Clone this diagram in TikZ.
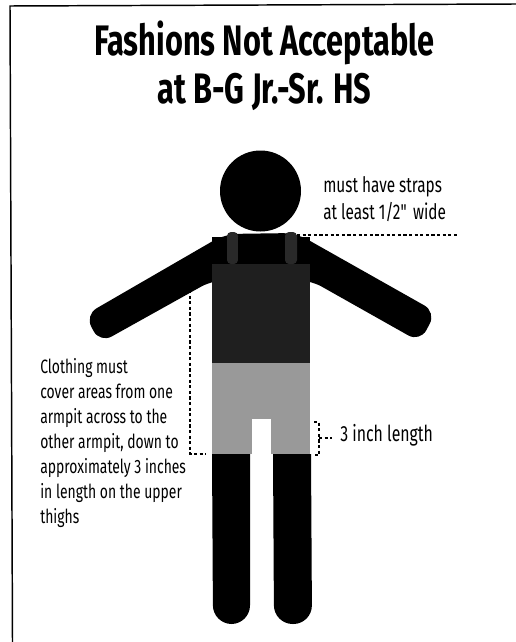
\documentclass[tikz,border=0pt]{standalone}
\usepackage{fontspec}
\setmainfont{Fira Sans}[FakeStretch=0.72]
\tikzset{
  leader/.style={draw=black, line width=1.2pt, dash pattern=on 2.4pt off 1.8pt},
  label/.style={inner sep=0pt, align=left, anchor=north west, font=\fontsize{14.5}{18.75}\selectfont},
  body/.style={fill=black, draw=none}
}
\begin{document}
\begin{tikzpicture}[x=0.75pt, y=-0.75pt]
\useasboundingbox (0,0) rectangle (516,642);
\fill [white] (0,0) rectangle (516,642);
\draw [line width=1.1pt] (12.5,642) -- (10,6) -- (516,4);
\node (title) [inner sep=0pt, align=center, font=\fontsize{32}{36}\selectfont\bfseries] at (264.5,66) {Fashions Not Acceptable\\at B-G Jr.-Sr. HS};
\fill [body] (260.5,191) circle [radius=40.5];
\path [body, rounded corners=10pt] (225,234) -- (85,315) -- (100,343) -- (213,280) -- (310,280) -- (420,342) -- (436,312) -- (296,233) -- cycle;
\fill [body] (212,237) rectangle (310,270);
\fill [black!88] (212,264) rectangle (310,364);
\fill [black!40] (212,363) rectangle (310,454);
\fill [black!84, rounded corners=3pt] (227,232) rectangle (238,264);
\fill [black!84, rounded corners=3pt] (285,232) rectangle (297,264);
\fill [body] (238,237) rectangle (285,264);
\path [body] (212,454) [rounded corners=14pt] -- (213,624) -- (250,624) [sharp corners] -- (250,454) -- cycle;
\path [body] (273,454) [rounded corners=14pt] -- (274,624) -- (312,624) [sharp corners] -- (311,454) -- cycle;
\fill [white] (252,419) rectangle (271,454);
\coordinate (strap) at (297,235);
\coordinate (strapend) at (457,235);
\coordinate (armpit) at (190,290);
\coordinate (hem) at (190,454);
\coordinate (hemend) at (206,454);
\coordinate (brtop) at (314,422);
\coordinate (brtopr) at (319,422);
\coordinate (brbot) at (319,455);
\coordinate (brbotl) at (314,455);
\coordinate (brmid) at (319,438);
\coordinate (brtick) at (332,438);
\draw [leader] (strap) -- (strapend);
\draw [leader] (armpit) -- (hem) -- (hemend);
\draw [leader] (brtop) -- (brtopr) -- (brbot) -- (brbotl);
\draw [leader] (brmid) -- (brtick);
\node (straps) [label, font=\fontsize{16}{20.25}\selectfont] at (323,176) {must have straps\\at least 1/2\textquotedbl\ wide};
\node (clothing) [label] at (40,358) {Clothing must\\cover areas from one\\armpit across to the\\other armpit, down to\\approximately 3 inches\\in length on the upper\\thighs};
\node (length) [label, font=\fontsize{16.5}{20}\selectfont, anchor=west] at (340,435) {3 inch length};
\end{tikzpicture}
\end{document}
